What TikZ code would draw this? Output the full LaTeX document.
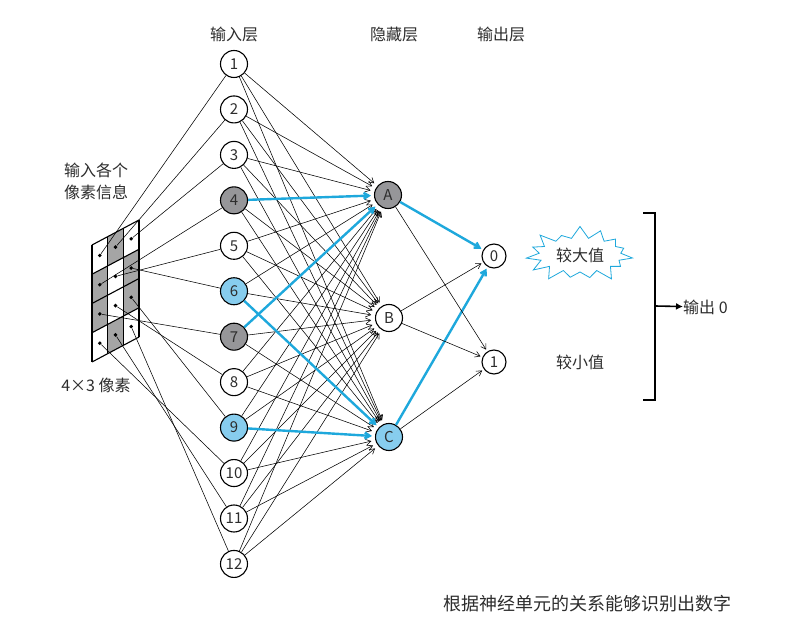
\documentclass[tikz,border=0pt]{standalone}
\usepackage{fontspec}
\setmainfont{Noto Sans CJK SC}
\usetikzlibrary{arrows.meta,shapes.symbols,positioning}
\definecolor{netblue}{RGB}{30,168,220}
\definecolor{nodeblue}{RGB}{135,205,238}
\definecolor{nodegrey}{RGB}{150,150,153}
\definecolor{cellgrey}{RGB}{165,165,165}
\definecolor{txt}{RGB}{45,45,45}

\begin{document}
\begin{tikzpicture}[
  x=1pt,y=-1pt,
  >={Straight Barb[length=5pt,width=6pt]},
  unit/.style={circle,draw,line width=1.1pt,minimum size=27pt,inner sep=0pt,
    text=txt,font=\fontsize{15}{15}\selectfont},
  outunit/.style={unit,minimum size=24pt},
  link/.style={->,line width=0.55pt,shorten >=4pt},
  hot/.style={->,line width=2.4pt,color=netblue,shorten >=3pt},
  caption/.style={text=txt,font=\fontsize{16}{22}\selectfont,inner sep=0pt},
  dot/.style={circle,fill,inner sep=0pt,minimum size=3.8pt},
  burst/.style={starburst,draw=netblue,line width=0.8pt,fill=white,
    starburst points=15,starburst point height=13pt,random starburst=40,
    minimum width=108pt,minimum height=60pt,caption}
]%
  \useasboundingbox[fill=white] (0,0) rectangle (804,636);
  \pgfmathsetseed{7}

  % headers
  \node[caption] (hdrIn)  at (234,34) {输入层};
  \node[caption] (hdrHid) at (394,34) {隐藏层};
  \node[caption] (hdrOut) at (501,34) {输出层};

  % pixel grid (4 rows x 3 columns)
  \begin{scope}[shift={(92pt,-245pt)},x={(15.67pt,8.33pt)},y={(0pt,-29.25pt)}]
    \foreach \c/\r in {1/0,0/1,2/1,0/2,2/2,1/3}
      \fill[cellgrey] (\c,\r) -- (\c+1,\r) -- (\c+1,\r+1) -- (\c,\r+1) -- cycle;
    \foreach \c in {0,...,3} \draw[line width=1.1pt] (\c,0) -- (\c,4);
    \foreach \r in {0,...,4} \draw[line width=1.1pt] (0,\r) -- (3,\r);
    \foreach \r in {0,...,3}
      \foreach \c in {0,1,2} {
        \pgfmathtruncatemacro{\k}{3*\r+\c+1}
        \node[dot] (p\k) at (\c+.5,\r+.5) {};
      }
  \end{scope}
  \node[caption,align=center] (gridTop) at (96,181) {输入各个\\像素信息};
  \node[caption] (gridBot) at (96,385) {4×3 像素};

  % input layer
  \foreach \i/\f in {1/white,2/white,3/white,4/nodegrey,5/white,6/nodeblue,
                     7/nodegrey,8/white,9/nodeblue,10/white,11/white,12/white}
    \node[unit,fill=\f] (in\i) at (234,{64+45.45*(\i-1)}) {\i};

  % hidden and output layer
  \node[unit,fill=nodegrey] (hA) at (388,195) {A};
  \node[unit,fill=white]    (hB) at (389,318) {B};
  \node[unit,fill=nodeblue] (hC) at (389,437) {C};
  \node[outunit,fill=white] (o0) at (494,256) {0};
  \node[outunit,fill=white] (o1) at (494,362) {1};

  % pixels to input units
  \foreach \k in {1,...,12}
    \draw[line width=0.55pt] (p\k) -- (in\k);

  % input to hidden
  \foreach \i in {1,...,12}
    \foreach \h in {A,B,C}
      \draw[link] (in\i) -- (h\h);
  \draw[hot] (in4) -- (hA);
  \draw[hot] (in7) -- (hA);
  \draw[hot] (in6) -- (hC);
  \draw[hot] (in9) -- (hC);

  % hidden to output
  \draw[hot,shorten >=2pt]  (hA) -- (o0);
  \draw[hot,shorten >=2pt]  (hC) -- (o0);
  \draw[link,shorten >=2pt] (hA) -- (o1);
  \draw[link,shorten >=2pt] (hB) -- (o0);
  \draw[link,shorten >=2pt] (hB) -- (o1);
  \draw[link,shorten >=2pt] (hC) -- (o1);

  % output values
  \node[burst] (big) at (580,255) {较大值};
  \node[caption] (small) at (580,362) {较小值};

  \draw[line width=2.2pt] (643,213) -- (655,213) -- (655,400) -- (643,400);
  \coordinate (brk) at (655,306);
  \node[caption,anchor=west] (result) at (683,307) {输出 0};
  \draw[-{Latex[length=7pt,width=7pt]},line width=1.6pt] (brk) -- (result);

  \node[caption,anchor=west,font=\fontsize{18}{18}\selectfont] (note) at (443,604)
    {根据神经单元的关系能够识别出数字};
\end{tikzpicture}
\end{document}
